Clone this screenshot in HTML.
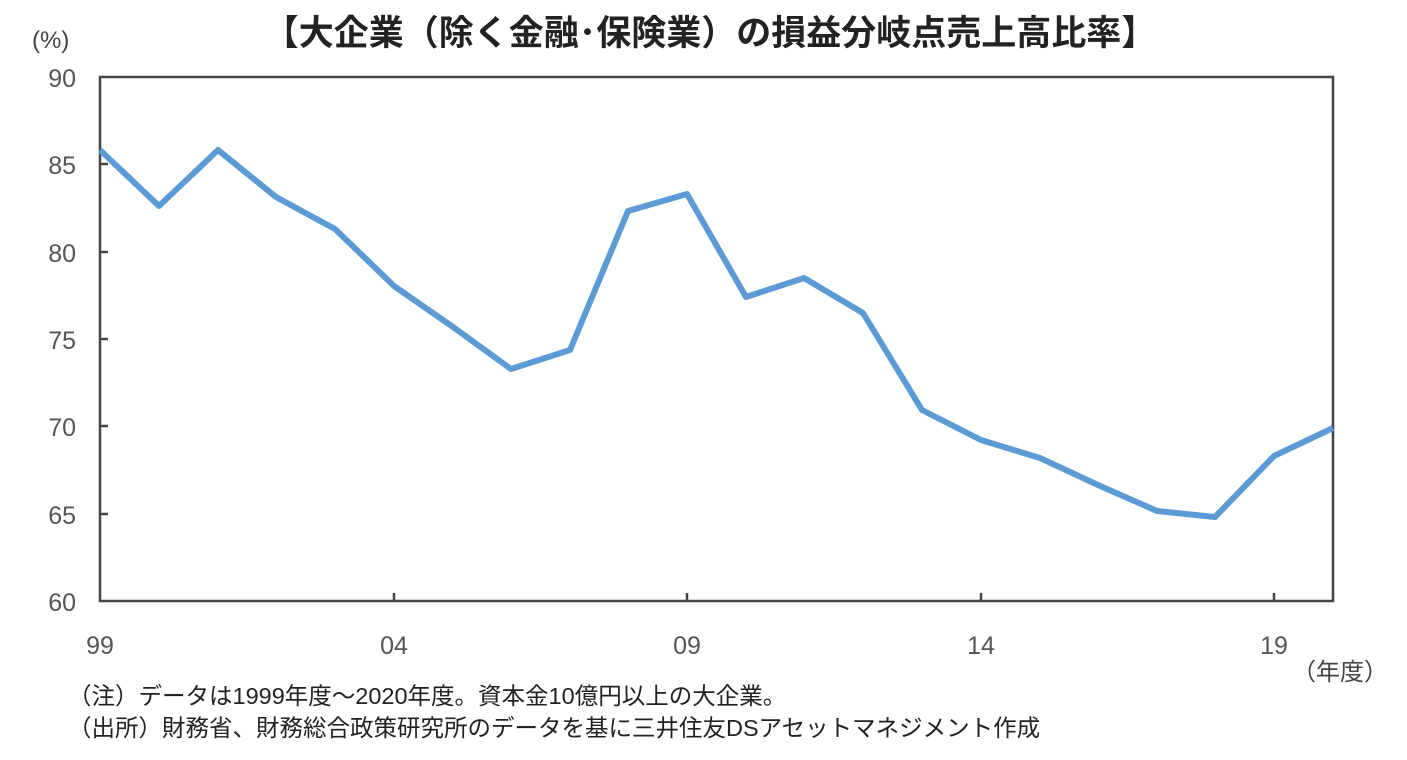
<!DOCTYPE html>
<html><head><meta charset="utf-8"><style>
body{margin:0;background:#fff;width:1407px;height:755px;overflow:hidden}
svg text{font-family:"Liberation Sans","Noto Sans CJK JP",sans-serif}
</style></head><body>
<svg width="1407" height="755" xmlns="http://www.w3.org/2000/svg">
<text x="710" y="45" font-size="35" font-weight="bold" text-anchor="middle" fill="#222">【大企業（除く金融･保険業）の損益分岐点売上高比率】</text>
<text x="32" y="48" font-size="24" fill="#444">(%)</text>
<g font-size="25" fill="#555" text-anchor="end">
<text x="76" y="87">90</text><text x="76" y="174">85</text><text x="76" y="262">80</text><text x="76" y="349">75</text><text x="76" y="436">70</text><text x="76" y="524">65</text><text x="76" y="611">60</text>
</g>
<g font-size="25" fill="#555" text-anchor="middle">
<text x="100" y="654">99</text><text x="394" y="654">04</text><text x="687" y="654">09</text><text x="981" y="654">14</text><text x="1274" y="654">19</text>
</g>
<text x="1388" y="680" font-size="24" fill="#444" text-anchor="end">（年度）</text>
<g stroke="#444" stroke-width="2.5" fill="none">
<rect x="100" y="77" width="1233" height="524"/>
<path d="M100 164h8M100 252h8M100 339h8M100 426h8M100 514h8M394 601v-8M687 601v-8M981 601v-8M1274 601v-8"/>
</g>
<polyline fill="none" stroke="#5b9bd5" stroke-width="6" stroke-linejoin="round" points="100,150 159,206 218,150 276,197 335,229 394,286 453,327 511,369 570,350 628,211 687,194 746,297 804,278 863,313 922,410 981,440 1040,458 1098,485 1157,511 1215,517 1274,456 1333,428"/>
<g font-size="23.5" fill="#222">
<text x="68" y="704">（注）データは1999年度～2020年度。資本金10億円以上の大企業。</text>
<text x="68" y="736">（出所）財務省、財務総合政策研究所のデータを基に三井住友DSアセットマネジメント作成</text>
</g>
</svg>
</body></html>
